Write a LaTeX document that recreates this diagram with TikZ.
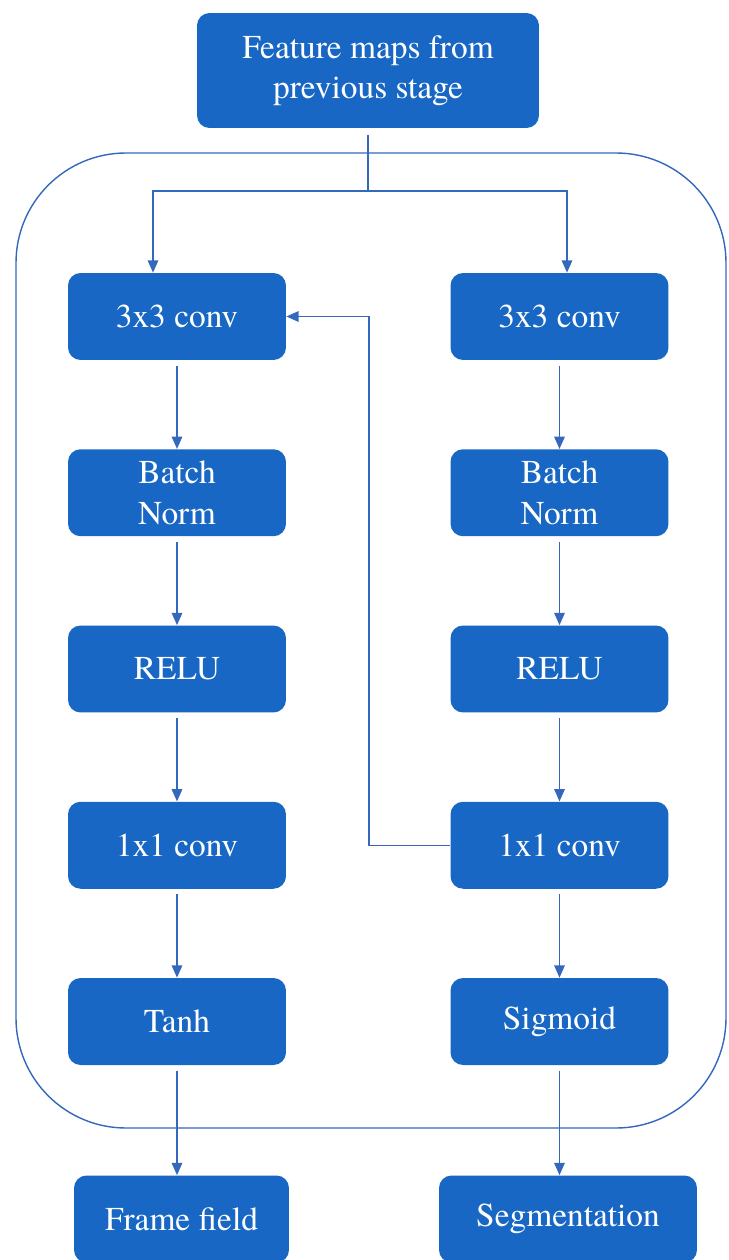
\documentclass[tikz,border=0pt]{standalone}
\usepackage{fontspec}
\setmainfont{texgyretermes}[Extension=.otf, UprightFont=*-regular, BoldFont=*-bold]
\usepackage{tikz}
\usetikzlibrary{arrows.meta}

\definecolor{boxblue}{RGB}{24,103,196}
\definecolor{lineblue}{RGB}{52,104,188}

\tikzset{
    blk/.style={fill=boxblue, rounded corners=0.25cm, text=white, align=center,
        minimum width=4.36cm, minimum height=1.74cm, inner sep=2pt,
        font=\fontsize{19}{23}\selectfont},
    link/.style={lineblue, line width=0.8pt},
}

\begin{document}
\begin{tikzpicture}[x=0.02cm, y=-0.02cm, >={Triangle[length=7pt,width=6pt]}]
    \useasboundingbox (0,0) rectangle (728,1260);

    % outer frame
    \draw[link, rounded corners=2.2cm] (16,153) rectangle (726,1128);

    \node[blk, minimum width=6.84cm, minimum height=2.3cm] (feat) at (368,70.5) {Feature maps from\\previous stage};

    \foreach \lbl [count=\i] in {3x3 conv, {Batch\\Norm}, RELU, 1x1 conv, Tanh}
        \node[blk] (l\i) at (177, 316.5+176.25*\i-176.25) {\lbl};
    \foreach \lbl [count=\i] in {3x3 conv, {Batch\\Norm}, RELU, 1x1 conv, Sigmoid}
        \node[blk] (r\i) at (559.5, 316.5+176.25*\i-176.25) {\lbl};

    \node[blk, minimum width=4.3cm] (ff) at (181.5,1219) {Frame field};
    \node[blk, minimum width=5.16cm] (seg) at (568,1219) {Segmentation};

    \coordinate (split) at (368,191);
    \draw[link, shorten <=4pt] (feat) -- (split);
    \draw[link, ->] (split) -| ([xshift=-0.48cm]l1.north);
    \draw[link, ->] (split) -| ([xshift=0.15cm]r1.north);

    \foreach \i/\j in {1/2, 2/3, 3/4, 4/5} {
        \draw[link, ->, shorten <=3pt] (l\i) -- (l\j);
        \draw[link, ->, shorten <=3pt] (r\i) -- (r\j);
    }

    \draw[link, ->] (r4.west) -- ++(-81,0) |- (l1.east);

    \draw[link, ->, shorten <=3pt] (l5) -- (l5 |- ff.north);
    \draw[link, ->, shorten <=3pt] (r5) -- (r5 |- seg.north);
\end{tikzpicture}
\end{document}
